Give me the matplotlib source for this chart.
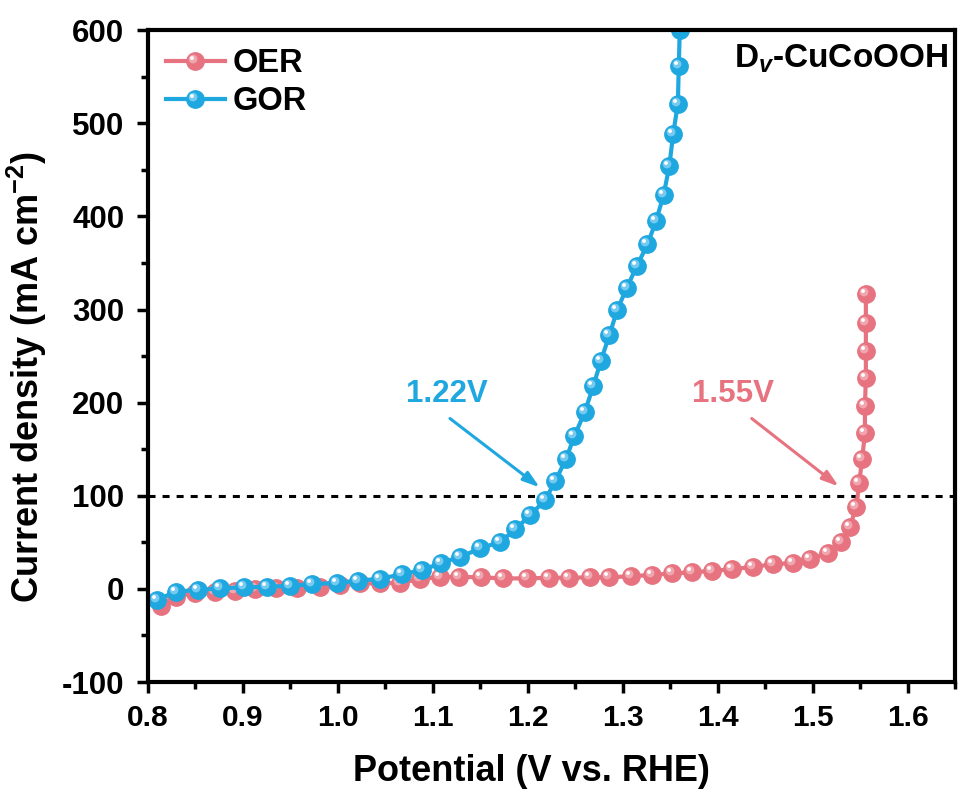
import matplotlib
matplotlib.use("Agg")
import matplotlib.pyplot as plt
from matplotlib.markers import MarkerStyle
from matplotlib.transforms import Affine2D

# LSV data
oer_v = [0.814, 0.829, 0.849, 0.871, 0.892, 0.913, 0.935, 0.957, 0.981, 1.002,
         1.023, 1.044, 1.065, 1.086, 1.107, 1.128, 1.151, 1.174, 1.199, 1.222,
         1.243, 1.265, 1.286, 1.309, 1.331, 1.352, 1.373, 1.394, 1.415, 1.437,
         1.458, 1.479, 1.497, 1.516, 1.530, 1.539, 1.546, 1.549, 1.552, 1.555,
         1.555, 1.556, 1.556, 1.556, 1.556]
oer_j = [-18, -9, -4, -3, -2, -0.5, 0.6, 1.2, 2.3, 4.1,
         6, 6, 6.6, 10.2, 13, 13, 12.4, 11.3, 11.3, 12,
         12, 12.4, 12.4, 13.8, 14.9, 16.7, 17.8, 19.5, 21, 23.8,
         26.3, 28, 32, 38.5, 50, 66.7, 88, 114, 139, 167,
         196, 226, 256, 286, 317]

gor_v = [0.809, 0.829, 0.853, 0.876, 0.901, 0.925, 0.950, 0.973, 0.999, 1.021,
         1.044, 1.067, 1.089, 1.109, 1.129, 1.150, 1.171, 1.187, 1.202, 1.218,
         1.229, 1.240, 1.249, 1.260, 1.269, 1.277, 1.286, 1.294, 1.304, 1.315,
         1.326, 1.335, 1.343, 1.349, 1.353, 1.358, 1.359, 1.360]
gor_j = [-12, -3, -1, 0.6, 1.7, 2.3, 3.4, 4.9, 6.6, 8.8,
         10.9, 15.6, 20.3, 28, 34.5, 43.5, 50.6, 64, 79, 95,
         116, 139, 164, 190, 218, 245, 273, 299, 323, 347,
         370, 395, 423, 454, 488, 521, 562, 600]

series_names = ["OER", "GOR"]
onset_labels = ["1.55V", "1.22V"]
ref_current = 100

red = "#E6737F"
blue = "#1FA7E0"

plt.rcParams["font.family"] = ["Liberation Sans", "DejaVu Sans"]
plt.rcParams["font.weight"] = "bold"
plt.rcParams["axes.labelweight"] = "bold"
plt.rcParams["mathtext.fontset"] = "custom"
plt.rcParams["mathtext.rm"] = "Liberation Sans:bold"
plt.rcParams["mathtext.it"] = "Liberation Sans:bold:italic"
plt.rcParams["axes.unicode_minus"] = False

fig = plt.figure(figsize=(9.58, 7.94), dpi=100)
ax = fig.add_axes([0.1545, 0.141, 0.8425, 0.821])

hl1 = MarkerStyle("o", transform=Affine2D().scale(0.5).translate(-0.14, 0.14))
hl2 = MarkerStyle("o", transform=Affine2D().scale(0.22).translate(-0.2, 0.2))


def sphere_line(x, y, c, light, name):
    base, = ax.plot(x, y, "-o", color=c, lw=3, ms=12.5, mec=c, label=name)
    h1, = ax.plot(x, y, ls="none", marker=hl1, ms=12.5, color=light, mec="none", alpha=0.8)
    h2, = ax.plot(x, y, ls="none", marker=hl2, ms=12.5, color="white", mec="none")
    return (base, h1, h2)


oer_h = sphere_line(oer_v, oer_j, red, "#F3B3BA", series_names[0])
gor_h = sphere_line(gor_v, gor_j, blue, "#8ED3F3", series_names[1])

ax.axhline(ref_current, color="black", lw=2.2, dashes=(2.3, 2.3), zorder=1)

arrow = dict(arrowstyle="-|>,head_length=1.0,head_width=0.32", lw=2.2,
             shrinkA=0, shrinkB=0)
# GOR onset
ax.annotate("", xy=(1.2126, 109), xytext=(1.118, 183),
            arrowprops=dict(arrow, color=blue))
ax.text(1.1147, 209, onset_labels[1], color=blue, fontsize=22.5,
        ha="center", va="center")
# OER onset
ax.annotate("", xy=(1.5275, 110), xytext=(1.4358, 183),
            arrowprops=dict(arrow, color=red))
ax.text(1.4158, 209, onset_labels[0], color=red, fontsize=22.5,
        ha="center", va="center")

ax.text(0.992, 0.956, r"D$_{v}$-CuCoOOH", transform=ax.transAxes,
        ha="right", va="center", fontsize=24)

ax.legend([oer_h, gor_h], series_names, loc="upper left", frameon=False,
          fontsize=23.5, handlelength=1.8, handletextpad=0.25, labelspacing=0.22,
          borderaxespad=0.15, bbox_to_anchor=(0.0, 1.0))

ax.set_xlim(0.8, 1.65)
ax.set_ylim(-100, 600)
ax.set_xticks([0.8, 0.9, 1.0, 1.1, 1.2, 1.3, 1.4, 1.5, 1.6])
ax.set_xticks([0.85, 0.95, 1.05, 1.15, 1.25, 1.35, 1.45, 1.55, 1.65], minor=True)
ax.set_yticks(range(-100, 601, 100))
ax.set_yticks(range(-50, 600, 100), minor=True)

ax.tick_params(which="major", length=8, width=2.5, labelsize=22.5)
ax.tick_params(axis="y", which="major", pad=9)
ax.tick_params(axis="x", which="major", labelsize=21.5, pad=8)
ax.tick_params(which="minor", length=5, width=2.5)
for s in ax.spines.values():
    s.set_linewidth(3)

ax.set_xlabel("Potential (V vs. RHE)", fontsize=26)
ax.set_ylabel(r"Current density (mA cm$^{-2}$)", fontsize=26)
ax.xaxis.set_label_coords(0.475, -0.11)
ax.yaxis.set_label_coords(-0.123, 0.468)

fig.savefig("out.png", dpi=100)
